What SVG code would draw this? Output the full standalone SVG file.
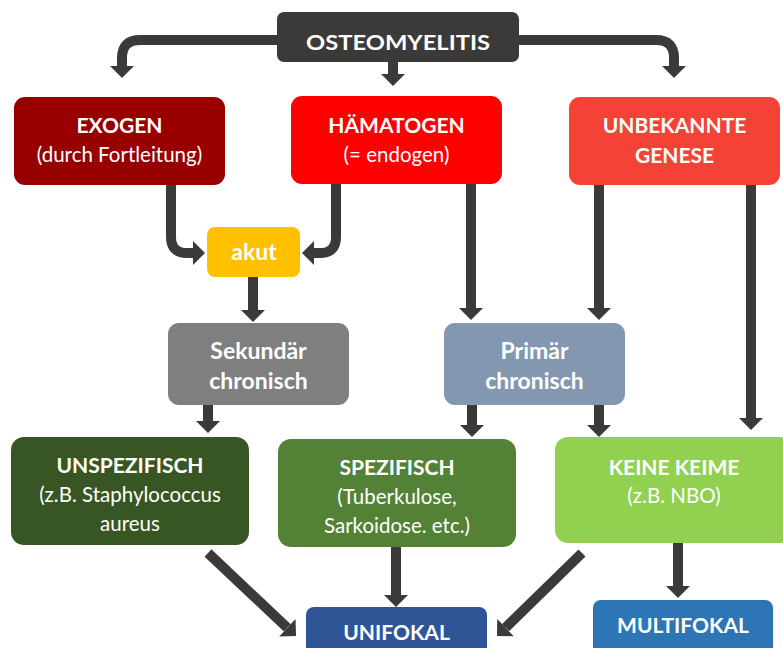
<svg xmlns="http://www.w3.org/2000/svg" width="783" height="648" viewBox="0 0 783 648">
<defs>
<style>
.b{font-family:Lato,"Open Sans","Liberation Sans",sans-serif;font-weight:bold;font-size:21px;fill:#fff;text-anchor:middle}
.l{font-size:23px}
.r{font-family:Lato,"Open Sans","Liberation Sans",sans-serif;font-size:20.5px;fill:#fff;text-anchor:middle}
.c{fill:none;stroke:#3a3a38;stroke-width:10}
</style>
<marker id="ah" markerUnits="userSpaceOnUse" markerWidth="12" markerHeight="24" refX="0" refY="12" orient="auto" viewBox="0 0 12 24"><path d="M0,0 L12,12 L0,24 z" fill="#3a3a38"/></marker>
</defs>
<rect width="783" height="648" fill="#fff"/>
<g id="connectors">
<path class="c" marker-end="url(#ah)" d="M280,40 H140 Q122,40 122,58 V66"/>
<path class="c" marker-end="url(#ah)" d="M516,40 H656 Q674,40 674,58 V66"/>
<path class="c" marker-end="url(#ah)" d="M393,60 V74"/>
<path class="c" marker-end="url(#ah)" d="M171,183 V237 Q171,253 187,253 H193"/>
<path class="c" marker-end="url(#ah)" d="M336,182 V237 Q336,253 320,253 H314"/>
<path class="c" marker-end="url(#ah)" d="M253,275 V310"/>
<path class="c" marker-end="url(#ah)" d="M471,182 V308"/>
<path class="c" marker-end="url(#ah)" d="M599,183 V308"/>
<path class="c" marker-end="url(#ah)" d="M751,183 V418"/>
<path class="c" marker-end="url(#ah)" d="M208,403 V421"/>
<path class="c" marker-end="url(#ah)" d="M472,403 V425"/>
<path class="c" marker-end="url(#ah)" d="M599,403 V425"/>
<path class="c" marker-end="url(#ah)" d="M208,553 L287.3,627.8"/>
<path class="c" marker-end="url(#ah)" d="M396,545 V595"/>
<path class="c" marker-end="url(#ah)" d="M582,553 L505.6,627.6"/>
<path class="c" marker-end="url(#ah)" d="M678,541 V586"/>
</g>
<g id="osteomyelitis"><rect x="277" y="12" width="242" height="50" rx="7" fill="#3b3a38"/><text class="b" x="398" y="50" font-size="26" textLength="184" lengthAdjust="spacingAndGlyphs">OSTEOMYELITIS</text></g>
<g id="exogen"><rect x="14" y="97" width="211" height="88" rx="11" fill="#980000"/><text class="b" x="119.5" y="133">EXOGEN</text><text class="r" x="119.5" y="162">(durch Fortleitung)</text></g>
<g id="haematogen"><rect x="291" y="96" width="211" height="88" rx="11" fill="#ff0000"/><text class="b" x="396.5" y="133">HÄMATOGEN</text><text class="r" x="396.5" y="162">(= endogen)</text></g>
<g id="unbekannt"><rect x="569" y="97" width="211" height="88" rx="11" fill="#f44236"/><text class="b" x="674.5" y="133">UNBEKANNTE</text><text class="b" x="674.5" y="163">GENESE</text></g>
<g id="akut"><rect x="207" y="227" width="93" height="50" rx="8" fill="#ffc000"/><text class="b l" x="254" y="260">akut</text></g>
<g id="sekundaer"><rect x="168" y="323" width="181" height="82" rx="11" fill="#7f7f7f"/><text class="b l" x="258.5" y="359">Sekundär</text><text class="b l" x="258.5" y="389">chronisch</text></g>
<g id="primaer"><rect x="444" y="323" width="181" height="82" rx="11" fill="#8497b0"/><text class="b l" x="534.5" y="359">Primär</text><text class="b l" x="534.5" y="389">chronisch</text></g>
<g id="unspezifisch"><rect x="11" y="437" width="238" height="108" rx="13" fill="#375623"/><text class="b" x="130" y="473">UNSPEZIFISCH</text><text class="r" x="130" y="502">(z.B. Staphylococcus</text><text class="r" x="130" y="531">aureus</text></g>
<g id="spezifisch"><rect x="278" y="439" width="238" height="108" rx="13" fill="#538135"/><text class="b" x="397" y="475">SPEZIFISCH</text><text class="r" x="397" y="504">(Tuberkulose,</text><text class="r" x="397" y="533">Sarkoidose. etc.)</text></g>
<g id="keinekeime"><rect x="555" y="437" width="238" height="106" rx="13" fill="#92d050"/><text class="b" x="674" y="475">KEINE KEIME</text><text class="r" x="674" y="503">(z.B. NBO)</text></g>
<g id="unifokal"><rect x="306" y="607" width="181" height="55" rx="8" fill="#2f5597"/><text class="b" x="396.5" y="640">UNIFOKAL</text></g>
<g id="multifokal"><rect x="593" y="600" width="180" height="56" rx="8" fill="#2e75b6"/><text class="b" x="683" y="633">MULTIFOKAL</text></g>
</svg>
